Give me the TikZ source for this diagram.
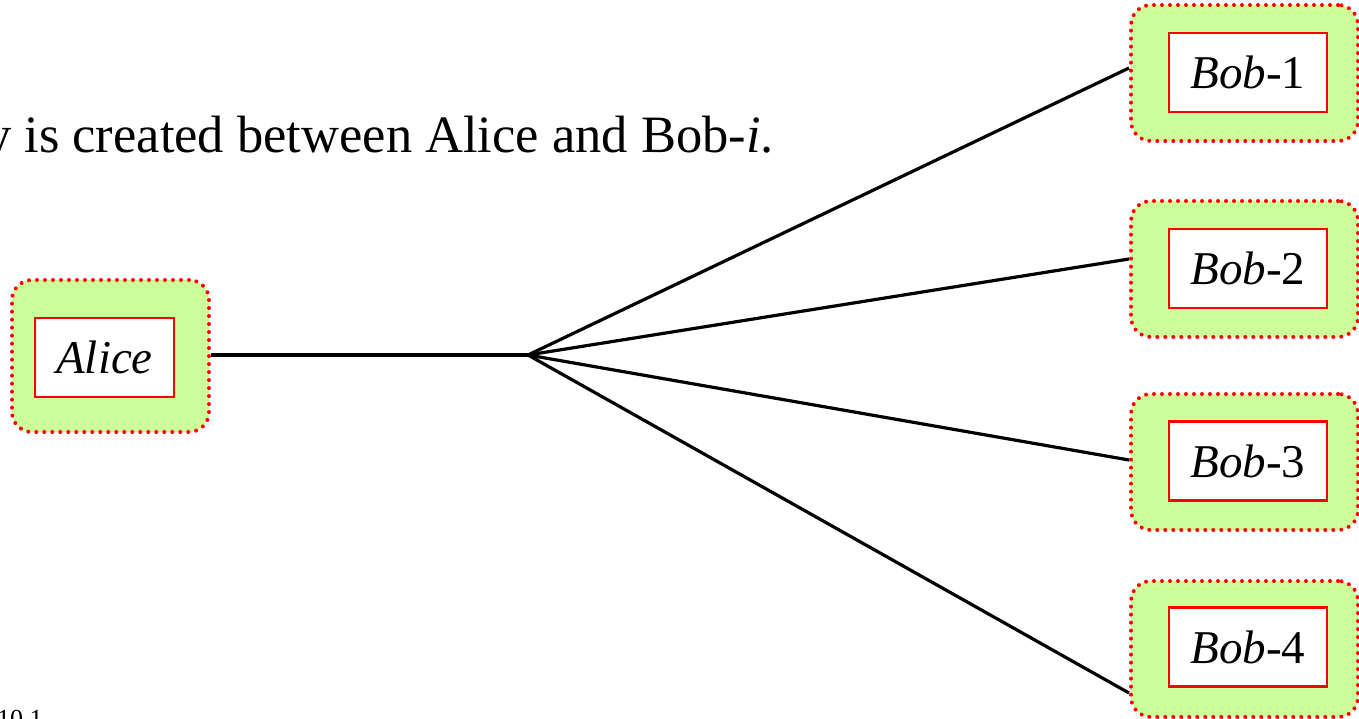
\documentclass[tikz,border=0pt]{standalone}
\usepackage{fontspec}
\setmainfont{Liberation Serif}
\usetikzlibrary{calc}
\definecolor{boxgreen}{RGB}{204,255,153}
\tikzset{
  outerbox/.style={draw=red, fill=boxgreen, rounded corners=20pt, line width=4pt,
    dash pattern=on 0pt off 8pt, line cap=round, minimum width=227pt, minimum height=136pt,
    inner sep=0pt},
  innerbox/.style={draw=red, fill=white, line width=2.2pt, minimum width=158pt,
    minimum height=79pt, inner sep=0pt, font=\fontsize{47}{56}\selectfont},
  link/.style={line width=3.2pt, black},
}
\begin{document}
\begin{tikzpicture}[x=1pt,y=-1pt]
\useasboundingbox (0,0) rectangle (1359,719);
\clip (0,0) rectangle (1359,719);
% title text (cut at the left edge)
\node[anchor=base east, inner sep=0pt, font=\fontsize{52.5}{60}\selectfont] (title) at (774,153)
  {key is created between Alice and Bob-\textit{i}.};
\node[anchor=north west, inner sep=0pt, font=\fontsize{26}{30}\selectfont] (pg) at (-3,710) {10.1};
% Alice
\node[outerbox, minimum width=197pt, minimum height=152pt] (alice) at (110.5,356) {};
\node[innerbox, minimum width=139pt] (alicei) at (104.5,357.5) {\textit{Alice}};
% Bobs
\node[outerbox] (b1) at (1244.5,73) {};
\node[innerbox] (b1i) at (1248,72.5) {\textit{Bob}-1};
\node[outerbox] (b2) at (1244.5,269) {};
\node[innerbox] (b2i) at (1248,268.5) {\textit{Bob}-2};
\node[outerbox] (b3) at (1244.5,462) {};
\node[innerbox] (b3i) at (1248,461) {\textit{Bob}-3};
\node[outerbox] (b4) at (1244.5,649) {};
\node[innerbox] (b4i) at (1248,647) {\textit{Bob}-4};
% junction
\coordinate (j) at (528,355);
\draw[link] (j -| alice.east) -- (j);
\draw[link] (j) -- ($(b1.west)+(0,-5)$);
\draw[link] (j) -- ($(b2.west)+(0,-10)$);
\draw[link] (j) -- ($(b3.west)+(0,-2)$);
\draw[link] (j) -- ($(b4.west)+(0,44)$);
\end{tikzpicture}
\end{document}
